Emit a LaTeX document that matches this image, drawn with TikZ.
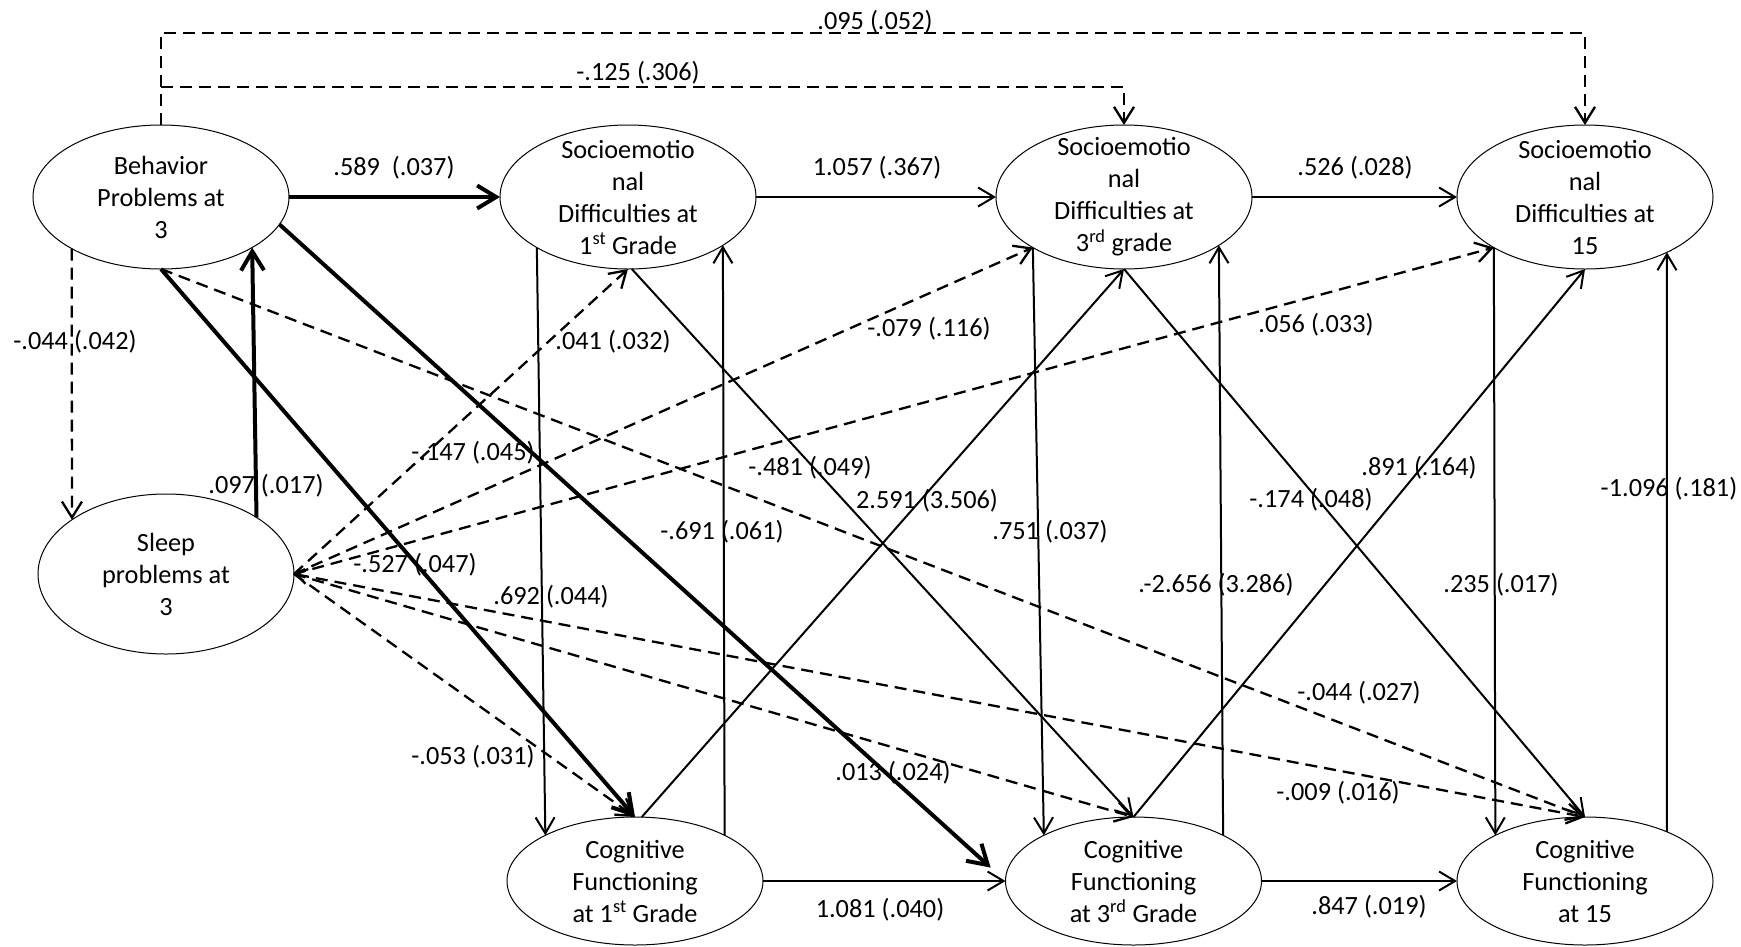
\documentclass[tikz,border=0pt]{standalone}
\usepackage{fontspec}
\setmainfont{Carlito}
\usetikzlibrary{arrows.meta,shapes.geometric}

\begin{document}
\begin{tikzpicture}[x=1pt,y=-1pt,font=\fontsize{26.3}{32}\selectfont,
  var/.style={draw,ellipse,line width=1pt,minimum width=256pt,minimum height=144pt,inner sep=0pt,outer sep=0pt},
  cog/.style={var,minimum height=128pt},
  eff/.style={line width=2pt,-{Straight Barb[length=16pt,width=19pt]}},
  big/.style={line width=4pt,-{Straight Barb[length=19pt,width=23pt]}},
  dsh/.style={line width=2.3pt,dash pattern=on 12pt off 7pt,-{Straight Barb[length=16pt,width=20pt]}},
  coef/.style={inner sep=0pt}]
\useasboundingbox (0,0) rectangle (1741,946);

% latent variables
\node[var,label={[align=center]center:Behavior\\Problems at\\3}] (B) at (161,197) {};
\node[var,minimum height=160pt,label={[align=center]center:Sleep\\problems at\\3}] (S) at (166,574) {};
\node[var,label={[align=center]center:Socioemotio\\nal\\Difficulties at\\1\textsuperscript{st} Grade}] (SE1) at (628,197) {};
\node[var,label={[align=center]center:Socioemotio\\nal\\Difficulties at\\3\textsuperscript{rd} grade}] (SE3) at (1124,197) {};
\node[var,label={[align=center]center:Socioemotio\\nal\\Difficulties at\\15}] (SE15) at (1585,197) {};
\node[cog,label={[align=center]center:Cognitive\\Functioning\\at 1\textsuperscript{st} Grade}] (CF1) at (635,881) {};
\node[cog,label={[align=center]center:Cognitive\\Functioning\\at 3\textsuperscript{rd} Grade}] (CF3) at (1133.5,881) {};
\node[cog,label={[align=center]center:Cognitive\\Functioning\\at 15}] (CF15) at (1585,881) {};
\coordinate (top1) at (161,33);
\coordinate (top2) at (161,87);

% stability paths
\draw[big] (B.east) -- (SE1.west);
\draw[eff] (SE1.east) -- (SE3.west);
\draw[eff] (SE3.east) -- (SE15.west);
\draw[eff] (CF1.east) -- (CF3.west);
\draw[eff] (CF3.east) -- (CF15.west);

% behavior and sleep
\draw[big] (S.32) -- (B.-29);
\draw[big] (B.south) -- (CF1.north);
\draw[big,shorten >=20pt] (B.-13) -- (CF3.west);
\draw[dsh] (B.-150) -- (S.150);
\draw[dsh] (B.north) -- (top1) -| (SE15.north);
\draw[dsh] (top2) -| (SE3.north);
\draw[dsh] (B.south) -- (CF15.north);
\draw[dsh] (S.east) -- (SE1.south);
\draw[dsh] (S.east) -- (SE3.209);
\draw[dsh] (S.east) -- (SE15.209);
\draw[dsh] (S.east) -- (CF1.north);
\draw[dsh] (S.east) -- (CF3.north);
\draw[dsh,{Straight Barb[length=11pt,width=15pt]}-{Straight Barb[length=16pt,width=20pt]}] (S.east) -- (CF15.north);

% cross-lagged paths
\draw[eff] (SE1.209) -- (CF1.153);
\draw[eff] (CF1.27) -- (SE1.-27);
\draw[eff] (SE3.209) -- (CF3.153);
\draw[eff] (CF3.27) -- (SE3.-27);
\draw[eff] (SE15.209) -- (CF15.153);
\draw[eff] (CF15.31) -- (SE15.-34);
\draw[eff] (CF1.84) -- (SE3.south);
\draw[eff] (SE1.-87) -- (CF3.north);
\draw[eff] (CF3.north) -- (SE15.south);
\draw[eff] (SE3.south) -- (CF15.north);

% estimates (se)
\node[coef] (c1) at (875,22) {.095 (.052)};
\node[coef] (c2) at (638,73) {-.125 (.306)};
\node[coef] (c3) at (394,168) {.589\ \ (.037)};
\node[coef] (c4) at (877,168) {1.057 (.367)};
\node[coef] (c5) at (1355,168) {.526 (.028)};
\node[coef] (c6) at (75,342) {-.044 (.042)};
\node[coef] (c7) at (613,342) {.041 (.032)};
\node[coef] (c8) at (929,329) {-.079 (.116)};
\node[coef] (c9) at (1316,325) {.056 (.033)};
\node[coef] (c10) at (473,453) {-.147 (.045)};
\node[coef] (c11) at (266,486) {.097 (.017)};
\node[coef] (c12) at (810,468) {-.481 (.049)};
\node[coef] (c13) at (927,501) {2.591 (3.506)};
\node[coef] (c14) at (1419,468) {.891 (.164)};
\node[coef] (c15) at (1311,500) {-.174 (.048)};
\node[coef] (c16) at (1669,489) {-1.096 (.181)};
\node[coef] (c17) at (722,532) {-.691 (.061)};
\node[coef] (c18) at (1050,532) {.751 (.037)};
\node[coef] (c19) at (415,565) {-.527 (.047)};
\node[coef] (c20) at (551,597) {.692 (.044)};
\node[coef] (c21) at (1216,585) {.-2.656 (3.286)};
\node[coef] (c22) at (1501,585) {.235 (.017)};
\node[coef] (c23) at (1359,693) {-.044 (.027)};
\node[coef] (c24) at (473,757) {-.053 (.031)};
\node[coef] (c25) at (893,773) {.013 (.024)};
\node[coef] (c26) at (1338,793) {-.009 (.016)};
\node[coef] (c27) at (880,910) {1.081 (.040)};
\node[coef] (c28) at (1369,907) {.847 (.019)};
\end{tikzpicture}
\end{document}
